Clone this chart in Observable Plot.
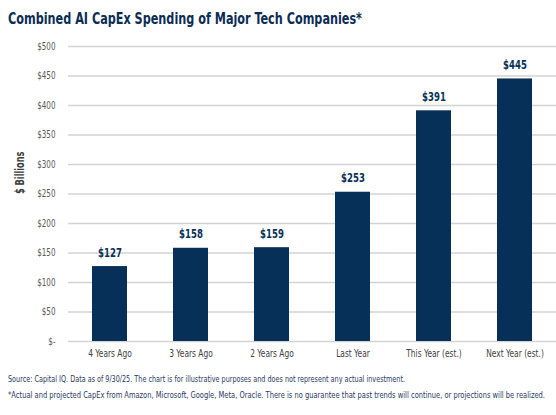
<!DOCTYPE html>
<html><head><meta charset="utf-8">
<script src="https://cdn.jsdelivr.net/npm/d3@7"></script>
<script src="https://cdn.jsdelivr.net/npm/@observablehq/plot@0.6"></script>
<style>
body{margin:0;background:#fff;font-family:"DejaVu Sans Condensed","DejaVu Sans",sans-serif;font-stretch:condensed;}
#wrap{position:relative;width:556px;height:415px;overflow:hidden;}
#title{position:absolute;left:8px;top:9px;font-size:16px;font-weight:bold;color:#0b2d55;white-space:nowrap;transform-origin:left top;}
#chart{position:absolute;left:0;top:30px;}
.note{position:absolute;left:8px;font-size:8.8px;color:#1f3a5f;white-space:nowrap;transform-origin:left top;}
</style></head>
<body><div id="wrap">
<div id="title" data-w="354">Combined AI CapEx Spending of Major Tech Companies*</div>
<div id="chart"></div>
<div class="note" data-w="397" style="top:374px">Source: Capital IQ. Data as of 9/30/25. The chart is for illustrative purposes and does not represent any actual investment.</div>
<div class="note" data-w="537" style="top:390px">*Actual and projected CapEx from Amazon, Microsoft, Google, Meta, Oracle. There is no guarantee that past trends will continue, or projections will be realized.</div>
</div>
<script>
const categories = ["4 Years Ago","3 Years Ago","2 Years Ago","Last Year","This Year (est.)","Next Year (est.)"];
const values = [127,158,159,253,391,445];
const yTicks = [0,50,100,150,200,250,300,350,400,450,500];

const data = categories.map((c,i)=>({cat:c, v:values[i]}));
const navy = "#063057";
const font = "'DejaVu Sans Condensed','DejaVu Sans',sans-serif";
const fmt = d => d===0 ? "$-" : "$"+d;

const chart = Plot.plot({
  width:556, height:341,
  marginLeft:68, marginRight:0, marginTop:16, marginBottom:30,
  style:{fontFamily:font, fontSize:"10px", color:"#595959", background:"transparent"},
  x:{domain:categories, paddingInner:0.57, paddingOuter:0.28, label:null},
  y:{domain:[0,500], label:null},
  marks:[
    Plot.ruleY(yTicks,{y:d=>d, stroke:"#d3d3d3", strokeOpacity:1, strokeWidth:1.4}),
    Plot.barY(data,{x:"cat", y:"v", fill:navy}),
    Plot.text(data,{x:"cat", y:"v", text:d=>"$"+d.v, dy:-14, fill:navy, fontWeight:"bold", fontSize:12.5}),
    Plot.axisX({tickSize:0, tickPadding:9, fill:"#404040", fontSize:9.8, className:"xax"}),
    Plot.axisY({ticks:yTicks, tickSize:0, tickPadding:13, fill:"#595959", fontSize:10.5, tickFormat:fmt}),
    Plot.text(["$ Billions"],{frameAnchor:"left", dx:-48, rotate:-90, fill:"#3a3a3a", fontWeight:"bold", fontSize:12})
  ]
});
document.getElementById("chart").appendChild(chart);
chart.querySelectorAll("text").forEach(el=>{
  const L = el.getComputedTextLength();
  const k = el.closest(".xax") ? 0.85 : 0.76;
  if (L>0) { el.setAttribute("textLength", L*k); el.setAttribute("lengthAdjust","spacingAndGlyphs"); }
});
document.querySelectorAll("[data-w]").forEach(el=>{
  const w = el.getBoundingClientRect().width;
  const t = +el.dataset.w;
  if (w>0) el.style.transform = `scaleX(${t/w})`;
});
</script>
</body></html>
